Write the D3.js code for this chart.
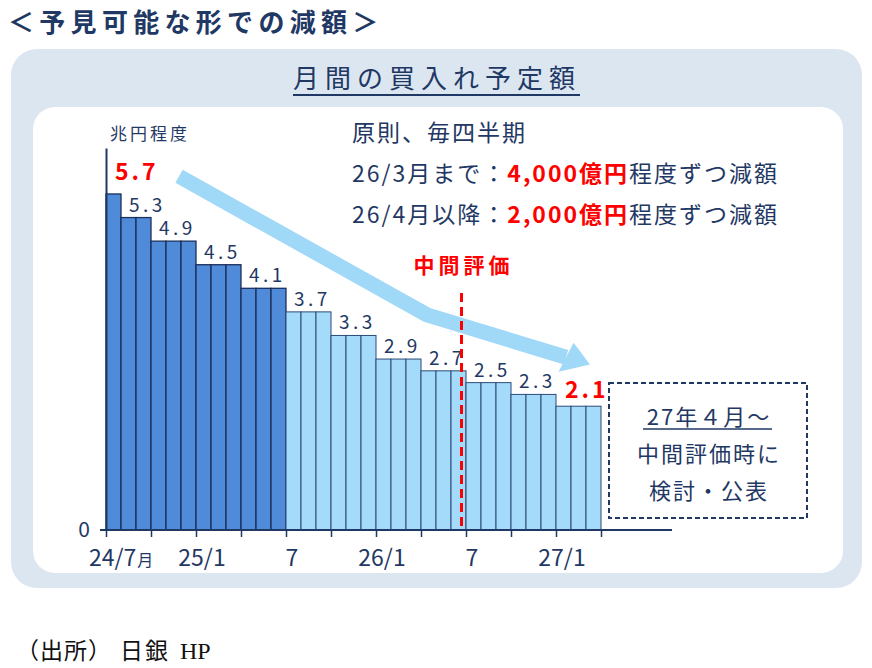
<!DOCTYPE html>
<html>
<head>
<meta charset="utf-8">
<script src="https://cdn.jsdelivr.net/npm/d3@7"></script>
<style>
  body { margin: 0; background: #fff; }
  svg { display: block; font-family: "Noto Sans CJK JP", "Noto Sans", sans-serif; }
</style>
</head>
<body>
<div id="chart"></div>
<script>
// months on the x axis, 24/7 .. 27/3
let months = [
    "24/7", "24/8", "24/9", "24/10", "24/11", "24/12",
    "25/1", "25/2", "25/3", "25/4", "25/5", "25/6",
    "25/7", "25/8", "25/9", "25/10", "25/11", "25/12",
    "26/1", "26/2", "26/3", "26/4", "26/5", "26/6",
    "26/7", "26/8", "26/9", "26/10", "26/11", "26/12",
    "27/1", "27/2", "27/3"
];

// planned monthly purchases (trillion yen)
let values = [
    5.7, 5.3, 5.3, 4.9, 4.9, 4.9,
    4.5, 4.5, 4.5, 4.1, 4.1, 4.1,
    3.7, 3.7, 3.7, 3.3, 3.3, 3.3,
    2.9, 2.9, 2.9, 2.7, 2.7, 2.7,
    2.5, 2.5, 2.5, 2.3, 2.3, 2.3,
    2.1, 2.1, 2.1
];

// the first 12 months are drawn darker
let darkUntil = "25/6";

// value labels, one per step
let stepLabels = [
    { m: "24/7", v: 5.7, red: true },
    { m: "24/8", v: 5.3 },
    { m: "24/10", v: 4.9 },
    { m: "25/1", v: 4.5 },
    { m: "25/4", v: 4.1 },
    { m: "25/7", v: 3.7 },
    { m: "25/10", v: 3.3 },
    { m: "26/1", v: 2.9 },
    { m: "26/4", v: 2.7 },
    { m: "26/7", v: 2.5 },
    { m: "26/10", v: 2.3 },
    { m: "27/1", v: 2.1, red: true }
];

// quarter ticks and their labels
let tickMonths = ["24/7", "24/10", "25/1", "25/4", "25/7", "25/10", "26/1", "26/4", "26/7", "26/10", "27/1"];
let tickLabels = [
    { m: "24/7", text: "24/7", unit: "月" },
    { m: "25/1", text: "25/1" },
    { m: "25/7", text: "7" },
    { m: "26/1", text: "26/1" },
    { m: "26/7", text: "7" },
    { m: "27/1", text: "27/1" }
];

// arrow path in (month index, value)
let arrowPts = [[4.87, 6.0], [21.4, 3.65], [30.67, 2.93]];
// interim review line position (month index)
let reviewAt = 23.7;

let navy = "#1f3864";
let red = "#ff0000";

let width = 872, height = 668;

let svg = d3.select("#chart").append("svg")
    .attr("width", width)
    .attr("height", height);

//panels
svg.append("rect")
    .attr("x", 11).attr("y", 49)
    .attr("width", 851).attr("height", 539)
    .attr("rx", 26)
    .attr("fill", "#dce6f1");

svg.append("rect")
    .attr("x", 33).attr("y", 107)
    .attr("width", 810).attr("height", 466)
    .attr("rx", 22)
    .attr("fill", "#ffffff");

//titles
svg.append("text")
    .attr("x", 8).attr("y", 32)
    .attr("font-size", 26)
    .attr("font-weight", "bold")
    .attr("letter-spacing", 5.3)
    .attr("fill", navy)
    .text("＜予見可能な形での減額＞");

svg.append("text")
    .attr("x", 293).attr("y", 88)
    .attr("font-size", 26)
    .attr("letter-spacing", 6)
    .attr("fill", navy)
    .text("月間の買入れ予定額");

svg.append("line")
    .attr("x1", 293).attr("x2", 580)
    .attr("y1", 95).attr("y2", 95)
    .attr("stroke", navy)
    .attr("stroke-width", 2);

//scales
let x = d3.scaleBand()
    .domain(months)
    .range([106, 601])
    .paddingInner(0)
    .paddingOuter(0);

let xi = d3.scaleLinear()
    .domain([0, months.length])
    .range([106, 601]);

let y = d3.scaleLinear()
    .domain([0, 6.48])
    .range([530, 148]);

let darkIdx = months.indexOf(darkUntil);

//bars
svg.append("g")
    .selectAll("rect")
    .data(months)
    .enter()
    .append("rect")
    .attr("x", function(d) { return x(d); })
    .attr("y", function(d, i) { return y(values[i]); })
    .attr("width", x.bandwidth())
    .attr("height", function(d, i) { return y(0) - y(values[i]); })
    .attr("fill", function(d, i) { return i <= darkIdx ? "#4f8bd9" : "#a4dbfb"; })
    .attr("stroke", function(d, i) { return i <= darkIdx ? "#1b2f5c" : "#2c4a78"; })
    .attr("stroke-width", function(d, i) { return i <= darkIdx ? 1.3 : 1; });

//value labels
svg.append("g")
    .selectAll("text")
    .data(stepLabels)
    .enter()
    .append("text")
    .attr("x", function(d) { return x(d.m) + (d.red ? 9 : 8); })
    .attr("y", function(d, i) { return y(d.v) - (i == 0 ? 14 : d.red ? 8 : 6); })
    .attr("font-size", function(d) { return d.red ? 23 : 19; })
    .attr("font-weight", function(d) { return d.red ? "bold" : "normal"; })
    .attr("letter-spacing", function(d) { return d.red ? 3 : 3.5; })
    .attr("fill", function(d) { return d.red ? red : navy; })
    .text(function(d) { return d.v.toFixed(1); });

//x axis
svg.append("line")
    .attr("x1", 100).attr("x2", 672)
    .attr("y1", y(0)).attr("y2", y(0))
    .attr("stroke", navy)
    .attr("stroke-width", 2);

let xAxis = d3.axisBottom(xi)
    .tickValues(tickMonths.map(function(m) { return months.indexOf(m); }).concat([months.length]))
    .tickSize(7)
    .tickSizeOuter(0)
    .tickFormat("");

let gx = svg.append("g")
    .attr("transform", `translate(0,${y(0)})`)
    .call(xAxis);
gx.select(".domain").remove();
gx.selectAll(".tick line").attr("stroke", navy).attr("stroke-width", 1.5);

let tl = svg.append("g")
    .selectAll("text")
    .data(tickLabels)
    .enter()
    .append("text")
    .attr("x", function(d) { return d.unit ? x(d.m) - 17 : x(d.m) + 6; })
    .attr("y", 566)
    .attr("text-anchor", function(d) { return d.unit ? "start" : "middle"; })
    .attr("font-size", 23)
    .attr("fill", navy)
    .text(function(d) { return d.text; });

tl.filter(function(d) { return d.unit; })
    .append("tspan")
    .attr("font-size", 16)
    .attr("dx", 1)
    .text(function(d) { return d.unit; });

//y axis
let gy = svg.append("g")
    .attr("transform", `translate(${x.range()[0]},0)`)
    .call(d3.axisLeft(y).tickValues([0]).tickFormat(d3.format("d")).tickSize(0).tickSizeOuter(0).tickPadding(16));
gy.select(".domain")
    .attr("stroke", navy)
    .attr("stroke-width", 2);
gy.selectAll(".tick text")
    .attr("font-family", "\"Noto Sans CJK JP\", sans-serif")
    .attr("font-size", 21)
    .attr("fill", navy);

svg.append("text")
    .attr("x", 110).attr("y", 140)
    .attr("font-size", 17)
    .attr("letter-spacing", 3)
    .attr("fill", navy)
    .text("兆円程度");

//arrow
let ap = arrowPts.map(function(p) { return [xi(p[0]), y(p[1])]; });

svg.append("path")
    .attr("d", d3.line()(ap))
    .attr("fill", "none")
    .attr("stroke", "#a0d8f8")
    .attr("stroke-width", 15)
    .attr("stroke-linejoin", "round");

let a = ap[ap.length - 2], b = ap[ap.length - 1];
let len = Math.hypot(b[0] - a[0], b[1] - a[1]);
let ux = (b[0] - a[0]) / len, uy = (b[1] - a[1]) / len;
let headL = 25, headW = 16;
svg.append("path")
    .attr("d", d3.line()([
        [b[0] + uy * headW + ux * 3, b[1] - ux * headW + uy * 3],
        [b[0] + ux * headL, b[1] + uy * headL],
        [b[0] - uy * headW - ux * 3, b[1] + ux * headW - uy * 3]
    ]) + "Z")
    .attr("fill", "#a0d8f8");

//interim review line
svg.append("line")
    .attr("x1", xi(reviewAt)).attr("x2", xi(reviewAt))
    .attr("y1", 293).attr("y2", y(0))
    .attr("stroke", red)
    .attr("stroke-width", 3)
    .attr("stroke-dasharray", "9,5");

svg.append("text")
    .attr("x", xi(reviewAt) + 2).attr("y", 273)
    .attr("text-anchor", "middle")
    .attr("font-size", 21)
    .attr("font-weight", "bold")
    .attr("letter-spacing", 4)
    .attr("fill", red)
    .text("中間評価");

//notes top right
let noteRows = [
    [{ t: "原則、毎四半期" }],
    [{ t: "26/3月まで：" }, { t: "4,000億円", red: true }, { t: "程度ずつ減額" }],
    [{ t: "26/4月以降：" }, { t: "2,000億円", red: true }, { t: "程度ずつ減額" }]
];

noteRows.forEach(function(row, i) {
    let t = svg.append("text")
        .attr("x", 352)
        .attr("y", 141 + i * 41)
        .attr("font-size", 23)
        .attr("letter-spacing", 2)
        .attr("fill", navy);
    t.selectAll("tspan")
        .data(row)
        .enter()
        .append("tspan")
        .attr("fill", function(d) { return d.red ? red : navy; })
        .attr("font-weight", function(d) { return d.red ? "bold" : "normal"; })
        .text(function(d) { return d.t; });
});

//dashed box
svg.append("rect")
    .attr("x", 609).attr("y", 383)
    .attr("width", 198).attr("height", 135)
    .attr("fill", "none")
    .attr("stroke", navy)
    .attr("stroke-width", 2)
    .attr("stroke-dasharray", "5,3");

let boxLines = ["27年４月～", "中間評価時に", "検討・公表"];
svg.append("g")
    .selectAll("text")
    .data(boxLines)
    .enter()
    .append("text")
    .attr("x", 709)
    .attr("y", function(d, i) { return 425 + i * 37; })
    .attr("text-anchor", "middle")
    .attr("font-size", 22)
    .attr("letter-spacing", 2)
    .attr("fill", navy)
    .text(function(d) { return d; });

svg.append("line")
    .attr("x1", 643).attr("x2", 772)
    .attr("y1", 429).attr("y2", 429)
    .attr("stroke", navy)
    .attr("stroke-width", 1.5);

//source
let src = svg.append("text")
    .attr("x", 16).attr("y", 659)
    .attr("font-size", 23)
    .attr("font-family", "\"Liberation Serif\", \"Noto Sans CJK JP\", serif")
    .attr("fill", "#111");
src.append("tspan").attr("letter-spacing", 1).text("（出所）");
src.append("tspan").attr("dx", 8).attr("letter-spacing", 2).text("日銀");
src.append("tspan").attr("dx", 10).attr("font-size", 24).text("HP");
</script>
</body>
</html>
